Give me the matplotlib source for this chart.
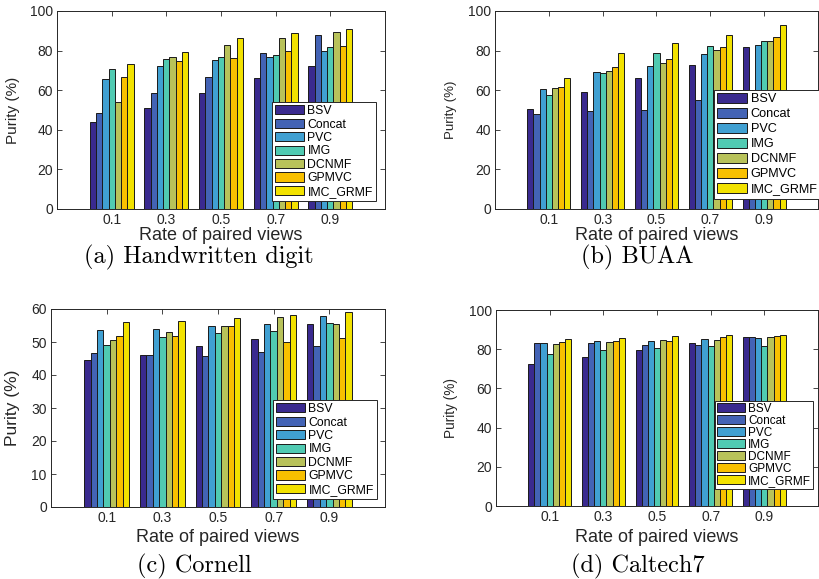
import numpy as np
import matplotlib
matplotlib.use("Agg")
import matplotlib.pyplot as plt

methods = ["BSV", "Concat", "PVC", "IMG", "DCNMF", "GPMVC", "IMC_GRMF"]
rates = ["0.1", "0.3", "0.5", "0.7", "0.9"]
colors = ["#3a2a8f", "#4363b5", "#40a0d2", "#50cab2", "#b8c25a", "#f8c000", "#f2e200"]

# values[method][rate]
handwritten = [
    [43.8, 51.2, 58.4, 66.0, 72.2],
    [48.3, 58.6, 66.8, 78.8, 87.9],
    [65.5, 72.2, 75.1, 76.9, 80.0],
    [70.9, 75.6, 76.6, 77.6, 81.6],
    [53.9, 76.8, 82.7, 86.2, 89.2],
    [66.7, 74.9, 76.3, 79.8, 82.2],
    [73.4, 79.1, 86.4, 89.1, 90.7],
]
buaa = [
    [50.3, 58.9, 66.2, 72.6, 81.6],
    [48.1, 49.5, 49.8, 55.1, 60.3],
    [60.8, 69.0, 72.1, 78.1, 82.8],
    [57.4, 68.7, 78.6, 82.5, 84.7],
    [60.9, 69.7, 73.7, 80.5, 84.7],
    [61.4, 71.7, 75.6, 81.8, 86.7],
    [66.0, 78.6, 83.7, 87.7, 92.9],
]
cornell = [
    [44.6, 46.0, 48.8, 51.0, 55.6],
    [46.6, 46.0, 45.9, 47.0, 48.9],
    [53.5, 54.0, 54.8, 55.5, 57.9],
    [49.0, 51.6, 52.8, 53.2, 55.8],
    [50.7, 52.9, 54.7, 57.5, 55.6],
    [51.9, 51.9, 54.7, 50.1, 51.1],
    [56.0, 56.5, 57.3, 58.1, 59.2],
]
caltech7 = [
    [72.4, 75.8, 79.4, 83.3, 86.2],
    [83.3, 83.3, 82.1, 82.3, 86.2],
    [83.4, 84.1, 84.1, 85.3, 85.7],
    [77.6, 79.7, 80.4, 81.7, 81.6],
    [82.6, 83.8, 84.6, 84.8, 86.0],
    [83.6, 84.3, 84.3, 86.3, 86.9],
    [85.0, 85.7, 86.7, 87.2, 87.2],
]

W, H = 820, 579
fig = plt.figure(figsize=(8.2, 5.79), dpi=100)
SANS = ["Liberation Sans", "DejaVu Sans"]
TXT = "#262626"

panels = [
    dict(data=handwritten, box=(57, 385, 11, 209), ymax=100, ystep=20, ylx=13, yls=11,
         leg=(272, 102), lfs=8.8, lsp=0.12, bp=0.25, cap="(a) Handwritten digit", capxy=(199, 257), xly=236),
    dict(data=buaa, box=(495, 818, 11, 209), ymax=100, ystep=20, ylx=451, yls=9.5,
         leg=(714, 90), lfs=9.1, lsp=0.22, bp=0.25, cap="(b) BUAA", capxy=(637, 257), xly=236),
    dict(data=cornell, box=(51, 385, 309, 507), ymax=60, ystep=10, ylx=13, yls=12.5,
         leg=(273, 400), lfs=8.8, lsp=0.12, bp=0.25, cap="(c) Cornell", capxy=(194, 566), xly=538),
    dict(data=caltech7, box=(496, 818, 310, 506), ymax=100, ystep=20, ylx=451, yls=9.8,
         leg=(715, 401), lfs=8.5, lsp=0.0, bp=0.15, cap="(d) Caltech7", capxy=(638, 566), xly=537),
]

n = len(methods)
group_w = 0.8
bw = group_w / n
xpos = np.arange(1, len(rates) + 1)

for p in panels:
    l, r, t, b = p["box"]
    ax = fig.add_axes([l / W, 1 - b / H, (r - l) / W, (b - t) / H])
    for i, m in enumerate(methods):
        offs = -group_w / 2 + bw * (i + 0.5)
        ax.bar(xpos + offs, p["data"][i], width=bw, color=colors[i],
               edgecolor="#1a1a1a", linewidth=0.7, label=m, zorder=2)
    ax.set_xlim(0, 6)
    ax.set_ylim(0, p["ymax"])
    ax.set_yticks(np.arange(0, p["ymax"] + 1, p["ystep"]))
    ax.set_xticks(xpos)
    ax.set_xticklabels(rates)
    ax.tick_params(direction="in", top=True, right=True, length=3.5, width=0.6,
                   labelsize=10, colors=TXT, labelcolor=TXT, pad=3)
    for lab in ax.get_xticklabels() + ax.get_yticklabels():
        lab.set_family(SANS)
    for s in ax.spines.values():
        s.set_linewidth(0.7)
        s.set_color(TXT)
    ax.set_ylabel("Purity (%)", fontsize=p["yls"], family=SANS, color=TXT)
    ax.yaxis.set_label_coords((p["ylx"] - l) / (r - l), 0.5)
    ax.yaxis.label.set_verticalalignment("center")
    ax.set_xlabel("Rate of paired views", fontsize=13, family=SANS, color=TXT)
    ax.xaxis.set_label_coords(0.5, -(p["xly"] - b) / (b - t))
    ax.xaxis.label.set_verticalalignment("center")

    lx, ly = p["leg"]
    leg = ax.legend(loc="upper left", bbox_to_anchor=(lx / W, 1 - ly / H),
                    bbox_transform=fig.transFigure, borderaxespad=0,
                    prop=dict(family=SANS, size=p["lfs"]), frameon=True,
                    fancybox=False, edgecolor=TXT, framealpha=1,
                    handlelength=2.4, handleheight=0.8, handletextpad=0.25,
                    labelspacing=p["lsp"], borderpad=p["bp"])
    leg.get_frame().set_linewidth(0.7)
    leg.set_zorder(5)

    fig.text(p["capxy"][0] / W, 1 - p["capxy"][1] / H, p["cap"], family="cmr10",
             fontsize=17.5, ha="center", va="center", color="black")

fig.savefig("out.png", dpi=100)
